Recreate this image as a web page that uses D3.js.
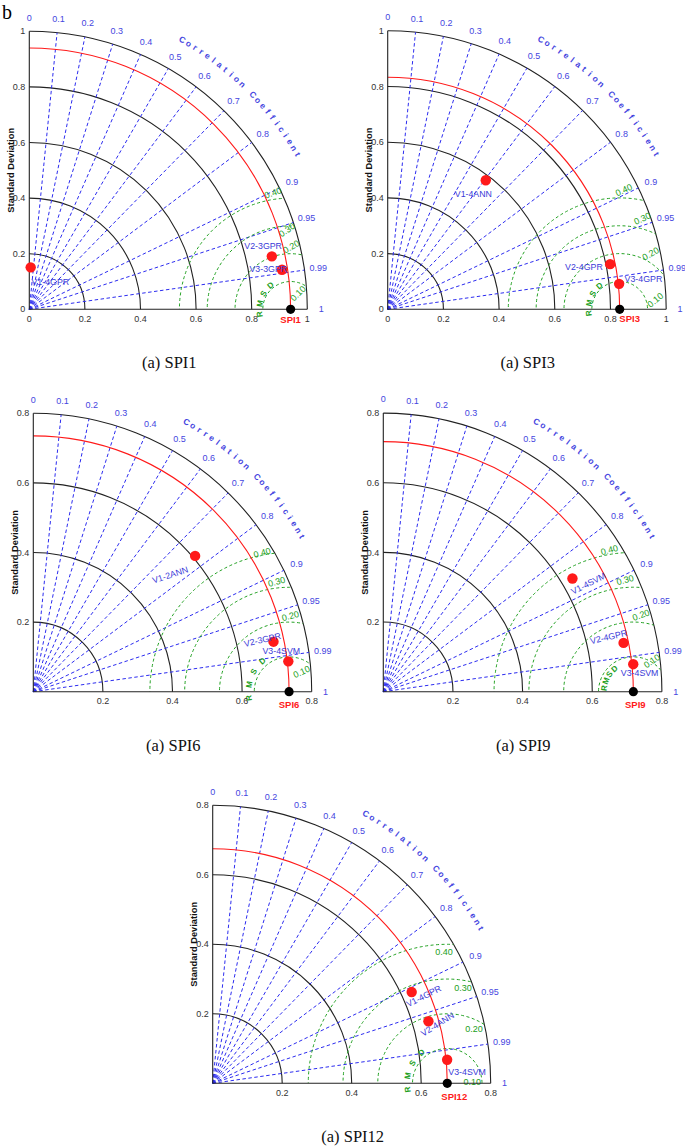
<!DOCTYPE html>
<html><head><meta charset="utf-8">
<script src="https://cdn.jsdelivr.net/npm/d3@7"></script>
<style>body{margin:0;background:#fff} svg{display:block}</style>
</head><body>
<svg id="c" width="685" height="1148"></svg>
<script>
// ---------------- data ----------------
const panelNames = ["SPI1", "SPI3", "SPI6", "SPI9", "SPI12"];
const captions = ["(a) SPI1", "(a) SPI3", "(a) SPI6", "(a) SPI9", "(a) SPI12"];
const stdMax = [1.0, 1.0, 0.8, 0.8, 0.8];
const stdTicksFull = [0, 0.2, 0.4, 0.6, 0.8, 1];
const stdTicksShort = [0.2, 0.4, 0.6, 0.8];
const stdTickLabelsFull = ["0", "0.2", "0.4", "0.6", "0.8", "1"];
const stdTickLabelsShort = ["0.2", "0.4", "0.6", "0.8"];
const refStd = [0.94, 0.833, 0.735, 0.718, 0.675];
const modelNames = [
  ["V1-4GPR", "V2-3GPR", "V3-3GPR"],
  ["V1-4ANN", "V2-4GPR", "V3-4GPR"],
  ["V1-2ANN", "V2-3GPR", "V3-4SVM"],
  ["V1-4SVM", "V2-4GPR", "V3-4SVM"],
  ["V1-4GPR", "V2-4ANN", "V3-4SVM"]
];
const modelStd = [
  [0.151, 0.893, 0.920],
  [0.582, 0.815, 0.836],
  [0.607, 0.705, 0.738],
  [0.633, 0.704, 0.722],
  [0.630, 0.646, 0.678]
];
const modelCorr = [
  [0.033, 0.977, 0.988],
  [0.605, 0.980, 0.994],
  [0.766, 0.979, 0.993],
  [0.858, 0.980, 0.994],
  [0.909, 0.961, 0.995]
];
const corrTicks = [0.1, 0.2, 0.3, 0.4, 0.5, 0.6, 0.7, 0.8, 0.9, 0.95, 0.99];
const corrLabelValues = [0, 0.1, 0.2, 0.3, 0.4, 0.5, 0.6, 0.7, 0.8, 0.9, 0.95, 0.99, 1];
const corrLabelTexts = ["0", "0.1", "0.2", "0.3", "0.4", "0.5", "0.6", "0.7", "0.8", "0.9", "0.95", "0.99", "1"];
const rmsTicks = [0.1, 0.2, 0.3, 0.4];
const rmsLabels = ["0.10", "0.20", "0.30", "0.40"];
const corrTitle = "Correlation Coefficient";
const rmsTitle = ["R", "M", "S", "D"];

// ---------------- layout (positions / styles) ----------------
const layout = [
  { ox: 29.3, oy: 309.3, R: 278, full: true, refDx: 0, refDy: 14,
    lab: [[19.6, 14.4, 0], [-8.7, -10.6, 0], [-13.7, -1, 0]],
    rmsLab: [[65, 0.063, -45], [89.4, 0.225, -30], [92.7, 0.286, -35], [98.6, 0.424, -20]],
    rmsT: [189, -19.7, 0.113] },
  { ox: 387.7, oy: 309.3, R: 278.5, full: true, refDx: 10, refDy: 13,
    lab: [[-12.4, 13.7, 0], [-26.2, 2.7, 0], [24.3, -5, 0]],
    rmsLab: [[14.6, 0.132, -40], [61, 0.229, -30], [76, 0.336, -25], [88, 0.429, -25]],
    rmsT: [187, -18.7, 0.112] },
  { ox: 33.3, oy: 691.7, R: 278.4, full: false, refDx: 0, refDy: 16.5,
    lab: [[-25, 19, -18], [-11, -2, -13], [-7, -10, 0]],
    rmsLab: [[58, 0.0675, -25], [89, 0.218, -15], [96.5, 0.318, -15], [101, 0.407, -15]],
    rmsT: [189, -19.3, 0.117] },
  { ox: 383.3, oy: 691.7, R: 278.6, full: false, refDx: 2, refDy: 16.5,
    lab: [[16, 5, -27], [-15, -6, -13], [6.4, 8.4, 0]],
    rmsLab: [[59, 0.103, -35], [84.3, 0.2215, -20], [94.2, 0.322, -15], [99.6, 0.413, -15]],
    rmsT: [173, -14.5, 0.085] },
  { ox: 212.7, oy: 1083.3, R: 278, full: false, refDx: 7, refDy: 16.5,
    lab: [[12, 4, -27], [9, 3, -32], [20, 12, 0]],
    rmsLab: [[2.3, 0.072, 0], [63.7, 0.174, 0], [80.6, 0.2775, 0], [91.4, 0.379, 0]],
    rmsT: [189, -19.7, 0.116] }
];

const SANS = "'Liberation Sans', Arial, Helvetica, sans-serif";
const SERIF = "'Liberation Serif', 'Times New Roman', serif";
const BLUE_LINE = "#2c2cf0";
const BLUE_TEXT = "#4545e0";
const GREEN = "#22a022";
const RED = "#ff1a1a";
const deg = Math.PI / 180;

const svg = d3.select("#c");

svg.append("text").attr("x", 2).attr("y", 19)
  .attr("font-family", SERIF).attr("font-size", 20).text("b");

panelNames.forEach((name, p) => {
  const L = layout[p];
  const max = stdMax[p];
  const r = d3.scaleLinear().domain([0, max]).range([0, L.R]);
  const g = svg.append("g").attr("transform", `translate(${L.ox},${L.oy})`);
  const pol = (rad, ang) => [rad * Math.cos(ang), -rad * Math.sin(ang)];
  const ticks = L.full ? stdTicksFull : stdTicksShort;
  const tickLabels = L.full ? stdTickLabelsFull : stdTickLabelsShort;

  // clip for quarter disc
  const clipId = "clip" + p;
  g.append("clipPath").attr("id", clipId).append("path")
    .attr("d", `M0,0 L${L.R},0 A${L.R},${L.R} 0 0 0 0,${-L.R} Z`);

  // std arcs
  ticks.filter(t => t > 0).forEach(t => {
    const pth = d3.path();
    pth.moveTo(r(t), 0);
    pth.arc(0, 0, r(t), 0, -Math.PI / 2, true);
    g.append("path").attr("d", pth.toString()).attr("fill", "none")
      .attr("stroke", "#222").attr("stroke-width", 1.1);
  });

  // correlation radial lines
  corrTicks.forEach(c => {
    const a = Math.acos(c);
    const [x, y] = pol(r(max), a);
    g.append("line").attr("x1", 0).attr("y1", 0).attr("x2", x).attr("y2", y)
      .attr("stroke", BLUE_LINE).attr("stroke-width", 1)
      .attr("stroke-dasharray", "3.5,2.5");
  });

  // RMSD circles
  const refX = r(refStd[p]);
  const rg = g.append("g").attr("clip-path", `url(#${clipId})`);
  rmsTicks.forEach(v => {
    rg.append("circle").attr("cx", refX).attr("cy", 0).attr("r", r(v))
      .attr("fill", "none").attr("stroke", GREEN).attr("stroke-width", 1)
      .attr("stroke-dasharray", "3,2.5");
  });

  // RMSD labels
  rmsLabels.forEach((txt, i) => {
    const [th, d, rot] = L.rmsLab[i];
    const [x, y] = pol(r(d), th * deg);
    g.append("text").attr("transform", `translate(${refX + x},${y}) rotate(${rot})`)
      .attr("text-anchor", "middle").attr("dy", "0.35em")
      .attr("font-family", SANS).attr("font-size", 9).attr("fill", GREEN).text(txt);
  });
  // RMSD title letters
  rmsTitle.forEach((ch, i) => {
    const th = L.rmsT[0] + i * L.rmsT[1];
    const [x, y] = pol(r(L.rmsT[2]), th * deg);
    g.append("text").attr("transform", `translate(${refX + x},${y}) rotate(${90 - th})`)
      .attr("text-anchor", "middle").attr("dy", "0.35em")
      .attr("font-family", SANS).attr("font-weight", "bold").attr("font-size", 8)
      .attr("fill", GREEN).text(ch);
  });

  // reference std arc (red)
  const rp = d3.path();
  rp.moveTo(refX, 0);
  rp.arc(0, 0, refX, 0, -Math.PI / 2, true);
  g.append("path").attr("d", rp.toString()).attr("fill", "none")
    .attr("stroke", RED).attr("stroke-width", 1.1);

  // axes
  g.append("line").attr("x1", 0).attr("y1", 0).attr("x2", r(max)).attr("y2", 0)
    .attr("stroke", "#222").attr("stroke-width", 1.1);
  g.append("line").attr("x1", 0).attr("y1", 0).attr("x2", 0).attr("y2", -r(max))
    .attr("stroke", "#222").attr("stroke-width", 1.1);

  // tick labels
  ticks.forEach((t, i) => {
    g.append("text").attr("x", r(t)).attr("y", 12.5).attr("text-anchor", "middle")
      .attr("font-family", SANS).attr("font-size", 9).attr("fill", "#333").text(tickLabels[i]);
    g.append("text").attr("x", -4).attr("y", -r(t)).attr("dy", "0.35em").attr("text-anchor", "end")
      .attr("font-family", SANS).attr("font-size", 9).attr("fill", "#333").text(tickLabels[i]);
  });

  g.append("text").attr("transform", `translate(-19,${-r(max) / 2}) rotate(-90)`)
    .attr("text-anchor", "middle").attr("dy", "0.35em")
    .attr("font-family", SANS).attr("font-weight", "bold").attr("font-size", 9.3)
    .attr("fill", "#111").text("Standard Deviation");

  // correlation labels
  corrLabelValues.forEach((c, i) => {
    const [x, y] = pol(r(max) * 1.05, Math.acos(c));
    g.append("text").attr("x", x).attr("y", y).attr("dy", "0.35em").attr("text-anchor", "middle")
      .attr("font-family", SANS).attr("font-size", 9).attr("fill", BLUE_TEXT).text(corrLabelTexts[i]);
  });

  // "Correlation Coefficient" letters along arc
  const chars = corrTitle.split("");
  chars.forEach((ch, i) => {
    const th = 60.4 - i * (30.4 / (chars.length - 1));
    const [x, y] = pol(r(max) * 1.115, th * deg);
    g.append("text").attr("transform", `translate(${x},${y}) rotate(${90 - th})`)
      .attr("text-anchor", "middle").attr("dy", "0.35em")
      .attr("font-family", SANS).attr("font-weight", "bold").attr("font-size", 8.5)
      .attr("fill", BLUE_TEXT).text(ch);
  });

  // model points
  const pts = modelNames[p].map((nm, i) => {
    const [x, y] = pol(r(modelStd[p][i]), Math.acos(modelCorr[p][i]));
    return { nm, x, y, i };
  });
  pts.forEach(d => {
    g.append("circle").attr("cx", d.x).attr("cy", d.y).attr("r", 5.2).attr("fill", RED);
  });
  // reference point
  g.append("circle").attr("cx", refX).attr("cy", 0).attr("r", 4.6).attr("fill", "#000");
  g.append("text").attr("x", refX + L.refDx).attr("y", L.refDy).attr("text-anchor", "middle")
    .attr("font-family", SANS).attr("font-weight", "bold").attr("font-size", 9.5)
    .attr("fill", RED).text(name);

  // model labels
  pts.forEach(d => {
    const [dx, dy, rot] = L.lab[d.i];
    g.append("text").attr("transform", `translate(${d.x + dx},${d.y + dy}) rotate(${rot})`)
      .attr("text-anchor", "middle").attr("dy", "0.35em")
      .attr("font-family", SANS).attr("font-size", 8.8).attr("fill", "#3a3ad8").text(d.nm);
  });

  // caption
  svg.append("text").attr("x", L.ox + 140).attr("y", L.oy + 59).attr("text-anchor", "middle")
    .attr("font-family", SERIF).attr("font-size", 16.5).attr("fill", "#111").text(captions[p]);
});
</script>
</body></html>
